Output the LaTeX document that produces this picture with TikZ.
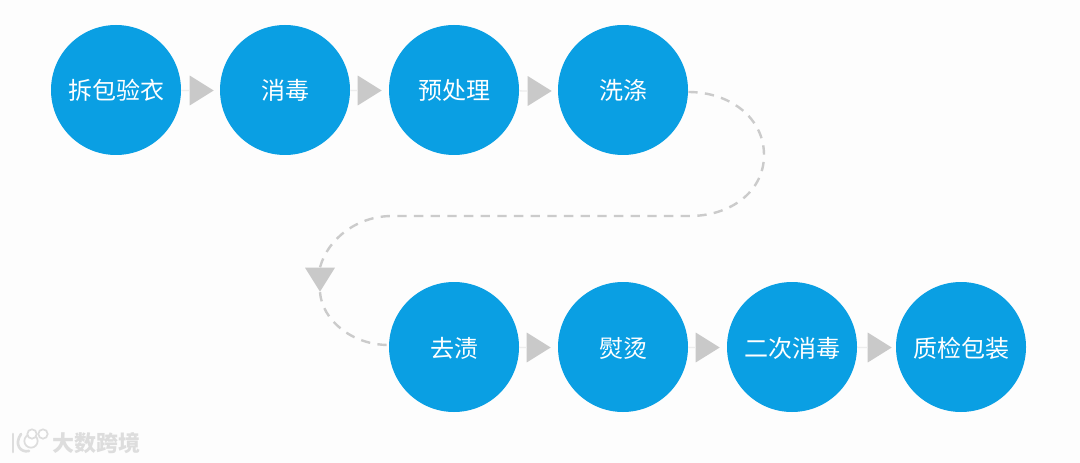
\documentclass[tikz,border=0pt]{standalone}
\usepackage{fontspec}
\setmainfont{Noto Sans CJK SC}
\usetikzlibrary{shapes.geometric}
\definecolor{stepblue}{HTML}{0A9FE3}
\definecolor{trigray}{HTML}{C9C9C9}
\definecolor{dashgray}{HTML}{CBCBCB}
\definecolor{markgray}{HTML}{DDDDDD}
\definecolor{pagebg}{HTML}{FDFDFD}
\tikzset{
  stepnode/.style={circle,fill=stepblue,draw=none,minimum size=97.5pt,inner sep=0pt,
    text=white,text height=17pt,text depth=2pt,font=\fontsize{18pt}{20pt}\selectfont},
  triright/.style={isosceles triangle,isosceles triangle apex angle=64,fill=trigray,draw=none,
    inner sep=0pt,minimum height=18pt,minimum width=18.8pt},
  tridown/.style={triright,shape border rotate=-90},
  stub/.style={draw=dashgray!35,line width=1pt},
  dashline/.style={draw=dashgray,line width=1.8pt,dash pattern=on 7pt off 5.5pt},
  logoring/.style={draw=markgray,line width=1.3pt,fill=white}
}
\begin{document}
\begin{tikzpicture}[x=0.75pt,y=-0.75pt]
\fill[pagebg] (0,0) rectangle (1080,463);
\useasboundingbox (0,0) rectangle (1080,463);
\coordinate (w1) at (764,155);
\coordinate (w2) at (690,216);
\coordinate (w3) at (392,216);
\node[stepnode] (a1) at (116,90) {拆包验衣};
\node[stepnode] (a2) at (285,90) {消毒};
\node[stepnode] (a3) at (454,90) {预处理};
\node[stepnode] (a4) at (623,90) {洗涤};
\node[stepnode] (b1) at (454,347) {去渍};
\node[stepnode] (b2) at (623,347) {熨烫};
\node[stepnode] (b3) at (792,347) {二次消毒};
\node[stepnode] (b4) at (961,347) {质检包装};
\node[triright] (t1) at (198,90.5) {};
\node[triright] (t2) at (366,90.5) {};
\node[triright] (t3) at (536,91) {};
\node[triright] (t4) at (535,347.5) {};
\node[triright] (t5) at (704,347.5) {};
\node[triright] (t6) at (876,347.5) {};
\node[tridown] (t7) at (320,276) {};
\draw[stub] (a1) -- (t1.west);
\draw[stub] (a2) -- (t2.west);
\draw[stub] (a3) -- (t3.west);
\draw[stub] (b1) -- (t4.west);
\draw[stub] (b2) -- (t5.west);
\draw[stub] (b3) -- (t6.west);
\draw[dashline] (a4.east |- 0,92) .. controls (730,92) and (764,118) .. (w1)
  .. controls (764,192) and (730,216) .. (w2) -- (w3)
  .. controls (358,216) and (328,238) .. (t7.north);
\draw[dashline] (t7.south) .. controls (322,320) and (352,345) .. (b1.west |- 0,345);
\node[logoring,circle,inner sep=0pt,minimum size=10pt] (r1) at (31,441) {};
\node[logoring,circle,inner sep=0pt,minimum size=7pt] (r2) at (32,434) {};
\node[logoring,circle,inner sep=0pt,minimum size=7pt] (r3) at (43,434) {};
\draw[draw=markgray,line width=2pt,line cap=round] (13,434) -- (13,452);
\draw[draw=markgray,line width=2pt,line cap=round] (21,434) .. controls (14,444) and (20,453) .. (29,451);
\node[text=markgray,font=\fontsize{16.5pt}{18pt}\selectfont\bfseries,inner sep=0pt] (wm) at (96,443) {大数跨境};
\end{tikzpicture}
\end{document}
